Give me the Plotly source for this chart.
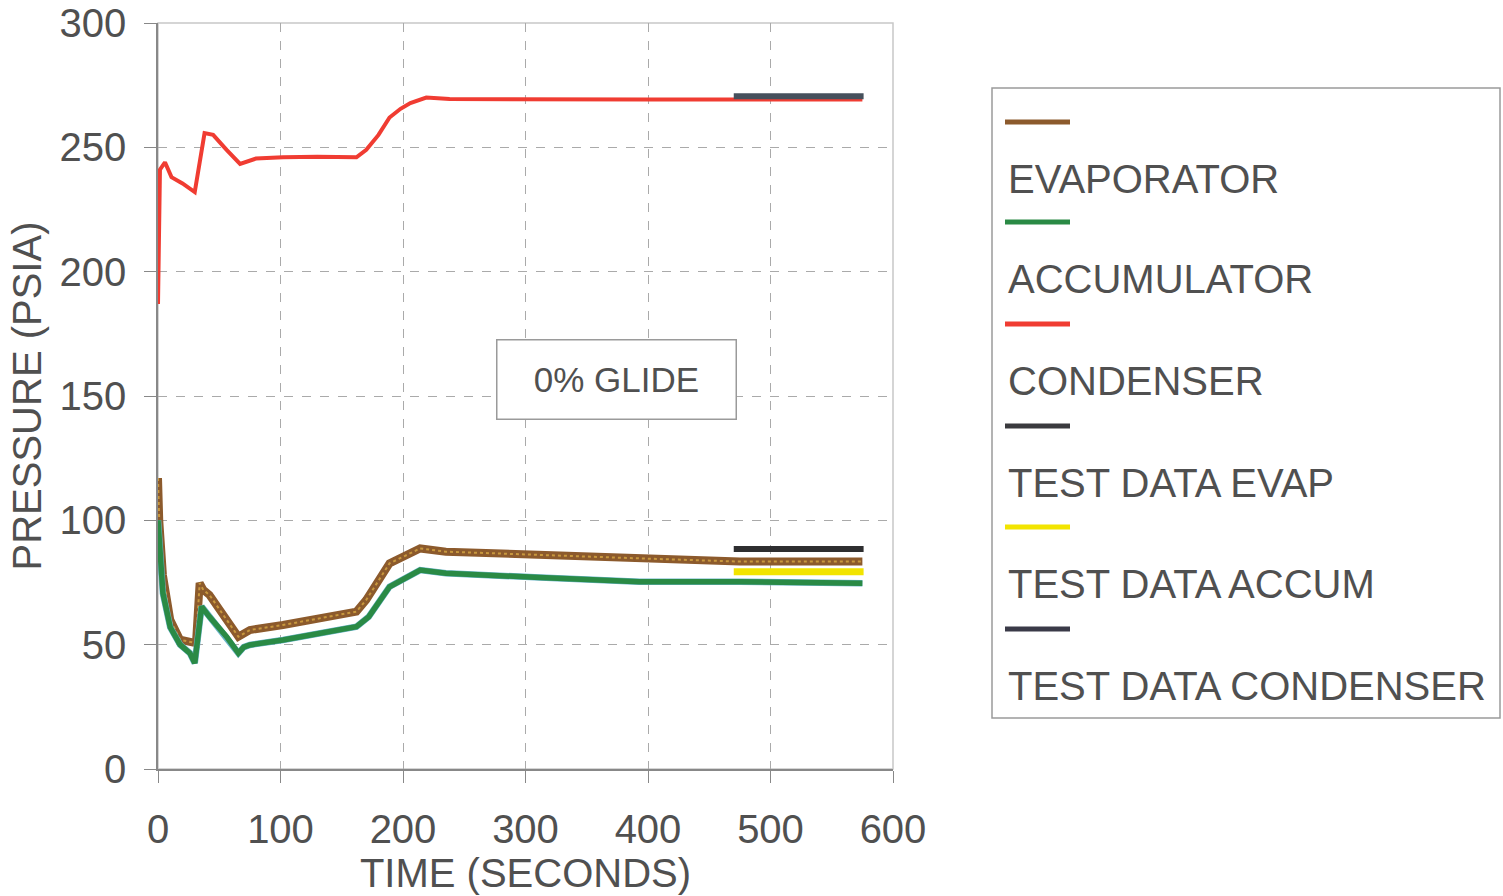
import plotly.graph_objects as go

# ---------------- data ----------------
time_cond = [0, 1.6, 5.7, 11, 20, 30, 38, 45, 56, 67, 80, 102, 130, 162, 170, 180, 189, 198, 206, 219, 238, 300, 400, 500, 575]
p_cond = [187, 241, 244, 238, 235.5, 232, 255.7, 255, 249, 243.3, 245.5, 246, 246.2, 246, 249, 255, 262, 265.5, 267.8, 270, 269.4, 269.2, 269.2, 269.2, 269.2]

time_evap = [0, 1, 4, 10, 18, 26, 31, 34, 37, 42, 56, 65.6, 75, 102, 162, 170, 189, 214, 235, 312, 393, 475, 575]
p_evap = [117, 100, 78, 60, 52, 51, 50.6, 74.8, 72, 70, 60, 53.2, 55.9, 57.9, 63.3, 68, 82.7, 88.7, 87.4, 86, 84.7, 83.4, 83.4]

time_accum = [0, 4, 10, 18, 26, 30, 35.6, 42, 56, 65.6, 70, 75, 102, 162, 172, 189, 214, 235, 312, 393, 475, 575]
p_accum = [100, 70.7, 57, 50, 46.6, 42.6, 65.3, 61.2, 53.2, 46.6, 49, 49.9, 51.9, 57.2, 61.2, 73.3, 80, 78.7, 77, 75.3, 75.3, 74.7]

time_test = [470, 576]
p_test_evap = [88.5, 88.5]
p_test_accum = [79.3, 79.3]
p_test_cond = [270.5, 270.5]

legend_labels = ["EVAPORATOR", "ACCUMULATOR", "CONDENSER", "TEST DATA EVAP", "TEST DATA ACCUM", "TEST DATA CONDENSER"]
legend_colors = ["#8c5a2c", "#2a8a45", "#f03c32", "#3a3a3e", "#f2e400", "#3a3a48"]

x_ticks = [0, 100, 200, 300, 400, 500, 600]
y_ticks = [0, 50, 100, 150, 200, 250, 300]

# ---------------- layout geometry ----------------
W, H = 1503, 896
L, R, T, B = 158, 893, 23, 769
FONT = "Liberation Sans, Arial, sans-serif"
TXT = "#505050"
FS = 40

def px(x):
    return (x - L) / (R - L)

def py(y):
    return (B - y) / (B - T)

fig = go.Figure()

fig.add_trace(go.Scatter(x=time_evap, y=p_evap, mode="lines", name="EVAPORATOR",
                         line=dict(color="#8c5a2c", width=8), showlegend=False))
fig.add_trace(go.Scatter(x=time_evap, y=p_evap, mode="lines", name="EVAPORATOR",
                         line=dict(color="#c8983e", width=2, dash="dot"), showlegend=False, hoverinfo="skip"))
fig.add_trace(go.Scatter(x=time_accum, y=p_accum, mode="lines", name="ACCUMULATOR",
                         line=dict(color="#6ab4c8", width=6.5), showlegend=False, hoverinfo="skip"))
fig.add_trace(go.Scatter(x=time_accum, y=p_accum, mode="lines", name="ACCUMULATOR",
                         line=dict(color="#2a8a45", width=5.5), showlegend=False))
fig.add_trace(go.Scatter(x=time_cond, y=p_cond, mode="lines", name="CONDENSER",
                         line=dict(color="#f03c32", width=4), showlegend=False))
fig.add_trace(go.Scatter(x=time_test, y=p_test_evap, mode="lines", name="TEST DATA EVAP",
                         line=dict(color="#2e2e30", width=6), showlegend=False))
fig.add_trace(go.Scatter(x=time_test, y=p_test_accum, mode="lines", name="TEST DATA ACCUM",
                         line=dict(color="#f2e400", width=7), showlegend=False))
fig.add_trace(go.Scatter(x=time_test, y=p_test_cond, mode="lines", name="TEST DATA CONDENSER",
                         line=dict(color="#46505c", width=6), showlegend=False))

shapes = []
annotations = []

# plot-area border (light)
shapes.append(dict(type="rect", xref="paper", yref="paper", x0=0, x1=1, y0=0, y1=1,
                   line=dict(color="#c8c8c8", width=1.5), layer="below"))

# manual legend (symbol on one row, label below it)
shapes.append(dict(type="rect", xref="paper", yref="paper",
                   x0=px(992), x1=px(1500), y0=py(718), y1=py(88),
                   line=dict(color="#9a9a9a", width=1.5), fillcolor="white"))
sym_y = [122, 222, 324, 426, 527, 629]
lab_y = [179, 279, 381, 483, 584, 686]
for i, (lab, col) in enumerate(zip(legend_labels, legend_colors)):
    shapes.append(dict(type="line", xref="paper", yref="paper",
                       x0=px(1005), x1=px(1070), y0=py(sym_y[i]), y1=py(sym_y[i]),
                       line=dict(color=col, width=5)))
    annotations.append(dict(xref="paper", yref="paper", x=px(1006), y=py(lab_y[i]),
                            text=lab, showarrow=False, xanchor="left", yanchor="middle",
                            font=dict(family=FONT, size=FS, color=TXT)))

# "0% GLIDE" box
annotations.append(dict(x=374.6, y=156.8, xref="x", yref="y", text="0% GLIDE",
                        showarrow=False, font=dict(family=FONT, size=35, color=TXT),
                        bordercolor="#9a9a9a", borderwidth=1.5, borderpad=4,
                        width=230, height=70, bgcolor="white"))

fig.update_layout(
    width=W, height=H,
    margin=dict(l=L, r=W - R, t=T, b=H - B),
    paper_bgcolor="white", plot_bgcolor="white",
    font=dict(family=FONT, size=FS, color=TXT),
    shapes=shapes, annotations=annotations,
    showlegend=False,
)

fig.update_xaxes(range=[0, 600], tickvals=x_ticks, ticks="outside", ticklen=12,
                 tickcolor="#888", linecolor="#888", linewidth=1.5, showline=True,
                 showgrid=True, gridcolor="#aaaaaa", griddash="dash", gridwidth=1,
                 zeroline=False, ticklabelstandoff=12, automargin=False,
                 tickfont=dict(family=FONT, size=FS, color=TXT),
                 title=dict(text="TIME (SECONDS)", standoff=0,
                            font=dict(family=FONT, size=FS, color=TXT)))
fig.update_yaxes(range=[0, 300], tickvals=y_ticks, ticks="outside", ticklen=12,
                 tickcolor="#888", linecolor="#888", linewidth=1.5, showline=True,
                 showgrid=True, gridcolor="#aaaaaa", griddash="dash", gridwidth=1,
                 zeroline=False, ticklabelstandoff=10, automargin=False,
                 tickfont=dict(family=FONT, size=FS, color=TXT),
                 title=dict(text="PRESSURE (PSIA)", standoff=6,
                            font=dict(family=FONT, size=FS, color=TXT)))

fig.write_html("out.html")
